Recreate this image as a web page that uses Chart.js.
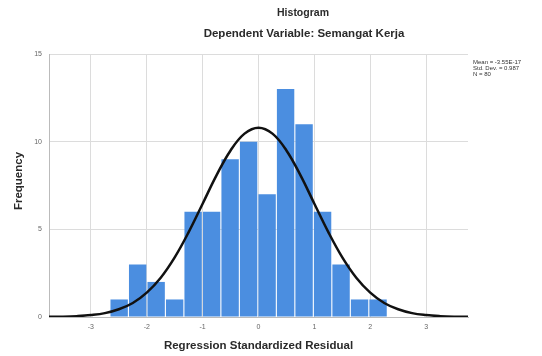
<!DOCTYPE html>
<html>
<head>
<meta charset="utf-8">
<script src="https://cdn.jsdelivr.net/npm/chart.js@4.4.1/dist/chart.umd.min.js"></script>
<style>
html,body{margin:0;padding:0;background:#fff;}
#wrap{width:542px;height:356px;position:relative;}
</style>
</head>
<body>
<div id="wrap"><canvas id="c" width="542" height="356"></canvas></div>
<script>
// Data
const binCenters = [-2.494, -2.163, -1.832, -1.501, -1.170, -0.839, -0.508, -0.177, 0.154, 0.485, 0.816, 1.147, 1.478, 1.809, 2.140];
const frequencies = [1, 3, 2, 1, 6, 6, 9, 10, 7, 13, 11, 6, 3, 1, 1];
const curveX = [-3.75,-3.5,-3.25,-3,-2.75,-2.5,-2.25,-2,-1.75,-1.5,-1.25,-1,-0.75,-0.5,-0.25,0,0.25,0.5,0.75,1,1.25,1.5,1.75,2,2.25,2.5,2.75,3,3.25,3.5,3.75];
const curveY = [0.01,0.02,0.05,0.11,0.22,0.44,0.80,1.39,2.24,3.40,4.84,6.46,8.09,9.50,10.46,10.80,10.46,9.50,8.09,6.46,4.84,3.40,2.24,1.39,0.80,0.44,0.22,0.11,0.05,0.02,0.01];
const xTicks = [-3, -2, -1, 0, 1, 2, 3];
const yTicks = [0, 5, 10, 15];
const titleText = "Histogram";
const subtitleText = "Dependent Variable: Semangat Kerja";
const xTitle = "Regression Standardized Residual";
const yTitle = "Frequency";
const statsLines = ["Mean = -3.55E-17", "Std. Dev. = 0.987", "N = 80"];

const FONT = "'Liberation Sans', Arial, sans-serif";

const textPlugin = {
  id: 'texts',
  afterDraw(chart) {
    const ctx = chart.ctx;
    const a = chart.chartArea;
    ctx.save();
    ctx.fillStyle = '#2a2a2a';
    ctx.textAlign = 'center';
    ctx.textBaseline = 'middle';
    ctx.font = "bold 10.5px " + FONT;
    ctx.fillText(titleText, 303, 13);
    ctx.font = "bold 11.5px " + FONT;
    ctx.fillText(subtitleText, 304, 34);
    ctx.font = "bold 11.5px " + FONT;
    ctx.fillText(xTitle, (a.left + a.right) / 2, 346);
    ctx.save();
    ctx.translate(19, 181);
    ctx.rotate(-Math.PI / 2);
    ctx.fillText(yTitle, 0, 0);
    ctx.restore();
    ctx.textAlign = 'left';
    ctx.font = "6px " + FONT;
    ctx.fillStyle = '#333';
    statsLines.forEach((s, i) => ctx.fillText(s, 473, 62 + i * 6));
    ctx.restore();
  }
};

new Chart(document.getElementById('c'), {
  type: 'bar',
  data: {
    datasets: [
      {
        type: 'line',
        data: curveX.map((x, i) => ({x: x, y: curveY[i]})),
        borderColor: '#111',
        borderWidth: 2.5,
        pointRadius: 0,
        tension: 0.4,
        fill: false,
        order: 0
      },
      {
        type: 'bar',
        data: binCenters.map((x, i) => ({x: x, y: frequencies[i]})),
        backgroundColor: '#4b8ee0',
        borderWidth: 0,
        barPercentage: 0.94,
        categoryPercentage: 1,
        order: 1
      }
    ]
  },
  options: {
    responsive: false,
    animation: false,
    layout: {padding: {left: 0, right: 74, top: 54, bottom: 0}},
    plugins: {legend: {display: false}, tooltip: {enabled: false}, title: {display: false}},
    scales: {
      x: {
        type: 'linear',
        offset: false,
        min: -3.75, max: 3.75,
        afterBuildTicks: s => { s.ticks = xTicks.map(v => ({value: v})); },
        afterFit: s => { s.height = 39; },
        grid: {color: '#dcdcdc', drawTicks: false, lineWidth: 1, offset: false},
        border: {color: '#bbb'},
        ticks: {font: {family: FONT, size: 7}, color: '#666', padding: 6, maxRotation: 0}
      },
      y: {
        type: 'linear',
        min: 0, max: 15,
        afterBuildTicks: s => { s.ticks = yTicks.map(v => ({value: v})); },
        afterFit: s => { s.width = 49; },
        grid: {color: '#dcdcdc', drawTicks: false, lineWidth: 1},
        border: {color: '#bbb'},
        ticks: {font: {family: FONT, size: 7}, color: '#666', padding: 7}
      }
    }
  },
  plugins: [textPlugin]
});
</script>
</body>
</html>
